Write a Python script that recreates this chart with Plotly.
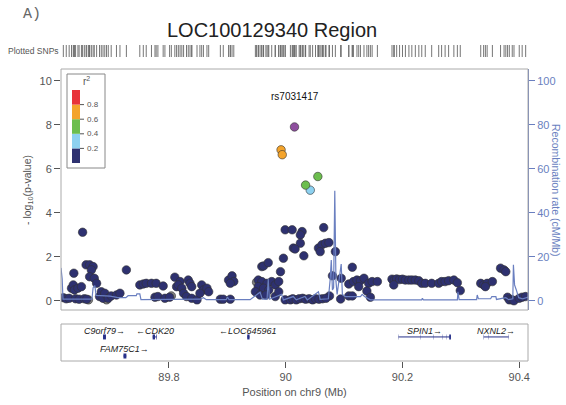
import plotly.graph_objects as go

W, H = 566, 405

# ---------------- data ----------------
snp_pos = [89.619, 89.624, 89.629, 89.633, 89.636, 89.637, 89.638, 89.644, 89.650, 89.640,
           89.646, 89.652, 89.655, 89.658, 89.664, 89.670, 89.667, 89.664, 89.672, 89.676,
           89.659, 89.662, 89.681, 89.684, 89.687, 89.690, 89.693, 89.696, 89.701, 89.710,
           89.716, 89.727, 89.750, 89.756, 89.761, 89.770, 89.778, 89.790, 89.776, 89.781,
           89.793, 89.801, 89.804, 89.810, 89.813, 89.819, 89.816, 89.822, 89.825, 89.833,
           89.836, 89.839, 89.830, 89.839, 89.848, 89.856, 89.859, 89.865, 89.868, 89.853,
           89.888, 89.893, 89.905, 89.902, 89.908, 89.911, 89.905, 89.959, 89.962, 89.970,
           89.953, 89.959, 89.968, 89.976, 89.982, 89.988, 89.953, 89.962, 89.971, 89.948,
           89.956, 89.966, 89.982, 89.988, 89.991, 89.996, 89.999, 90.011, 90.013, 89.999,
           90.008, 89.950, 90.028, 90.025, 90.065, 90.025, 90.016, 90.031, 90.056, 90.062,
           90.068, 90.074, 90.059, 90.085, 90.080, 90.095, 90.075, 90.094, 90.012, 90.018,
           90.023, 90.029, 90.034, 90.040, 90.046, 90.051, 90.057, 90.063, 90.069, 90.015,
           89.992, 89.994, 90.034, 90.055, 90.042, 90.114, 90.108, 90.116, 90.122, 90.128,
           90.134, 90.142, 90.148, 90.157, 90.125, 90.139, 90.108, 90.114, 90.145, 90.182,
           90.186, 90.190, 90.195, 90.200, 90.205, 90.185, 90.211, 90.216, 90.222, 90.228,
           90.233, 90.239, 90.250, 90.262, 90.267, 90.273, 90.279, 90.288, 90.294, 90.299,
           90.334, 90.339, 90.345, 90.354, 90.342, 90.368, 90.374, 90.377, 90.380, 90.383,
           90.388, 90.391, 90.400, 90.405, 90.411]
snp_logp = [0.15, 0.10, 0.12, 0.58, 0.73, 1.26, 0.50, 0.58, 0.65, 0.10,
            0.08, 3.12, 0.10, 1.64, 1.64, 1.56, 1.41, 1.10, 1.03, 0.80,
            0.08, 0.05, 0.20, 0.42, 0.12, 0.35, 0.05, 0.12, 0.23, 0.27,
            0.35, 1.41, 0.73, 0.77, 0.80, 0.80, 0.80, 0.68, 0.17, 0.20,
            0.12, 0.17, 0.23, 1.08, 0.65, 0.88, 0.73, 0.58, 0.35, 0.95,
            0.80, 0.65, 0.20, 0.12, 0.05, 0.73, 0.50, 0.58, 0.42, 0.35,
            0.08, 0.08, 0.08, 0.95, 1.14, 0.88, 0.80, 1.56, 1.59, 1.74,
            0.95, 0.88, 0.80, 0.88, 0.73, 0.88, 0.65, 0.58, 0.50, 0.42,
            0.27, 0.27, 0.20, 0.42, 1.33, 1.94, 3.23, 3.23, 2.40, 0.05,
            0.05, 0.85, 3.15, 3.00, 3.33, 2.62, 2.36, 2.05, 2.40, 2.55,
            2.62, 2.65, 2.24, 2.24, 1.14, 1.03, 0.23, 0.09, 0.10, 0.05,
            0.10, 0.12, 0.08, 0.10, 0.05, 0.10, 0.08, 0.10, 0.12, 7.90,
            6.86, 6.64, 5.26, 5.65, 5.03, 1.53, 0.77, 0.88, 0.95, 0.92,
            1.03, 0.80, 0.88, 0.88, 0.65, 0.45, 0.23, 0.23, 0.17, 0.99,
            0.95, 1.00, 0.97, 0.99, 0.95, 0.73, 0.95, 0.95, 0.95, 0.92,
            0.80, 0.80, 0.80, 0.80, 0.88, 0.88, 0.92, 0.95, 0.83, 0.47,
            0.80, 0.73, 0.80, 0.88, 0.65, 1.49, 1.41, 1.33, 0.17, 0.05,
            0.05, 0.01, 0.12, 0.17, 0.20]
# r2 per SNP (None = not available); 1.0 marks the index SNP
snp_r2 = [0.1] * len(snp_pos)
for i in (21, 26, 42, 91):
    snp_r2[i] = None
snp_r2[119] = 1.0
snp_r2[120] = 0.7
snp_r2[121] = 0.7
snp_r2[122] = 0.5
snp_r2[123] = 0.5
snp_r2[124] = 0.3
lead_snp = "rs7031417"

recomb_pos = [89.615, 89.617, 89.6184, 89.668, 89.670, 89.673, 89.675, 89.699, 89.713, 89.726,
              89.730, 89.744, 89.745, 89.750, 89.752, 89.785, 89.853, 89.859, 89.864, 89.898,
              89.900, 89.903, 89.939, 89.956, 89.960, 89.968, 89.970, 89.972, 89.993, 89.996,
              90.013, 90.018, 90.033, 90.037, 90.056, 90.059, 90.073, 90.076, 90.078, 90.080,
              90.082, 90.084, 90.086, 90.088, 90.095, 90.097, 90.102, 90.128, 90.131, 90.135,
              90.145, 90.233, 90.234, 90.236, 90.294, 90.295, 90.297, 90.327, 90.328, 90.330,
              90.351, 90.353, 90.360, 90.361, 90.377, 90.382, 90.389, 90.390, 90.392, 90.395,
              90.399, 90.406, 90.416]
recomb_rate = [15, 10, 0.8, 0.8, 6, 7, 2.5, 2.2, 1.5, 1.5,
               2.4, 2.4, 3.2, 3.2, 0.6, 0.6, 0.8, 1.5, 0.6, 0.6,
               1.8, 0.6, 0.6, 4, 0.8, 0.8, 10, 0.8, 3, 0.5,
               2, 0.5, 2, 0.5, 4.2, 0.7, 1, 9.5, 18.6, 5,
               6, 50, 9, 3, 16.8, 3, 2, 2, 3, 2,
               0.5, 0.5, 1.2, 0.5, 0.5, 4.2, 0.6, 0.6, 2.7, 1,
               1, 2, 2, 0.7, 1.5, 0.6, 1, 16.4, 7.3, 5,
               1.5, 1, 1.8]

gene_names = ["C9orf79", "CDK20", "LOC645961", "FAM75C1", "SPIN1", "NXNL2"]
gene_start = [89.687, 89.772, 89.934, 89.722, 90.193, 90.339]
gene_end = [89.692, 89.779, 89.938, 89.727, 90.283, 90.382]
gene_strand = ["+", "-", "-", "+", "+", "+"]
gene_row = [1, 1, 1, 2, 1, 1]
gene_exons = [
    [(89.687, 89.692)],
    [(89.772, 89.776), (89.778, 89.779)],
    [(89.934, 89.938)],
    [(89.722, 89.727)],
    [(90.193, 90.1935), (90.231, 90.2315), (90.253, 90.2535), (90.268, 90.2685),
     (90.275, 90.2755), (90.280, 90.283)],
    [(90.339, 90.3395), (90.347, 90.3475), (90.3815, 90.382)],
]

xticks = [89.8, 90.0, 90.2, 90.4]
xtick_labels = ["89.8", "90", "90.2", "90.4"]
yticks = [0, 2, 4, 6, 8, 10]
y2ticks = [0, 20, 40, 60, 80, 100]
r2_breaks = [0.2, 0.4, 0.6, 0.8]

# ---------------- styling ----------------
NAVY = "#2E3170"
LBLUE = "#8DD1F0"
GREEN = "#6CBE4E"
ORANGE = "#F4A42C"
RED = "#E8333A"
PURPLE = "#8E4F9E"
GRAY = "#808080"
RCOL = "#6A7FC0"
FRAME = "#AAAAAA"
TXT = "#555555"
GENE = "#27308A"


def px(x):
    return x / W


def py(y):
    return 1 - y / H


def r2_color(r):
    if r is None:
        return GRAY
    if r >= 1.0:
        return PURPLE
    if r >= 0.8:
        return RED
    if r >= 0.6:
        return ORANGE
    if r >= 0.4:
        return GREEN
    if r >= 0.2:
        return LBLUE
    return NAVY


XD = [px(61), px(528)]
XR = [89.615, 90.415]

fig = go.Figure()

# recombination rate
fig.add_trace(go.Scatter(x=recomb_pos, y=recomb_rate, mode="lines", yaxis="y2", xaxis="x",
                         line=dict(color=RCOL, width=1.2), hoverinfo="skip", showlegend=False))

# SNP points: draw navy/gray first, then coloured
order = sorted(range(len(snp_pos)), key=lambda i: (snp_r2[i] if snp_r2[i] is not None else -1))
fig.add_trace(go.Scatter(
    x=[snp_pos[i] for i in order], y=[snp_logp[i] for i in order], mode="markers",
    xaxis="x", yaxis="y",
    marker=dict(size=8.5, color=[r2_color(snp_r2[i]) for i in order],
                line=dict(color="#333333", width=0.6)),
    showlegend=False))

# rug of plotted SNPs
rx, ry = [], []
for p in snp_pos:
    rx += [p, p, None]
    ry += [0, 1, None]
fig.add_trace(go.Scatter(x=rx, y=ry, mode="lines", xaxis="x3", yaxis="y4",
                         line=dict(color="#666666", width=0.9), hoverinfo="skip", showlegend=False))

# genes
annotations = []
for name, s, e, st, row, exons in zip(gene_names, gene_start, gene_end, gene_strand, gene_row, gene_exons):
    yb = 0.65 if row == 1 else 0.135
    yl = 0.81 if row == 1 else 0.32
    fig.add_trace(go.Scatter(x=[s, e], y=[yb, yb], mode="lines", xaxis="x2", yaxis="y3",
                             line=dict(color=GENE, width=1), hoverinfo="skip", showlegend=False))
    for (a, b) in exons:
        fig.add_trace(go.Scatter(x=[a, b], y=[yb, yb], mode="lines", xaxis="x2", yaxis="y3",
                                 line=dict(color=GENE, width=5), hoverinfo="skip", showlegend=False))
    label = f"<i>{name}</i>→" if st == "+" else f"←<i>{name}</i>"
    annotations.append(dict(x=(s + e) / 2, y=yl, xref="x2", yref="y3", text=label, showarrow=False,
                            font=dict(size=9, color="#222222", family="Liberation Sans"),
                            xanchor="center", yanchor="middle"))

# texts
annotations += [
    dict(x=px(271.5), y=py(30), xref="paper", yref="paper", text="LOC100129340 Region",
         showarrow=False, font=dict(size=20, color="#222222", family="Liberation Sans"),
         xanchor="center", yanchor="middle"),
    dict(x=px(21), y=py(15), xref="paper", yref="paper", text="A)", showarrow=False,
         font=dict(size=15, color="#666666", family="Liberation Mono"), xanchor="left", yanchor="middle"),
    dict(x=px(6), y=py(51), xref="paper", yref="paper", text="Plotted SNPs", showarrow=False,
         font=dict(size=8.5, color=TXT, family="Liberation Sans"), xanchor="left", yanchor="middle"),
    dict(x=90.015, y=9.27, xref="x", yref="y", text=lead_snp, showarrow=False,
         font=dict(size=10, color="#111111", family="Liberation Sans"), xanchor="center", yanchor="middle"),
    dict(x=px(28), y=py(190), xref="paper", yref="paper", text="- log<sub>10</sub>(p-value)",
         showarrow=False, textangle=-90, font=dict(size=10.5, color=TXT, family="Liberation Sans"),
         xanchor="center", yanchor="middle"),
    dict(x=px(556), y=py(190), xref="paper", yref="paper", text="Recombination rate (cM/Mb)",
         showarrow=False, textangle=90, font=dict(size=10.5, color=RCOL, family="Liberation Sans"),
         xanchor="center", yanchor="middle"),
    dict(x=px(86), y=py(81), xref="paper", yref="paper", text="r<sup>2</sup>", showarrow=False,
         font=dict(size=10, color=TXT, family="Liberation Sans"), xanchor="center", yanchor="middle"),
]

# legend (r2 colour bar)
shapes = [
    dict(type="rect", xref="paper", yref="paper", x0=px(61), x1=px(528), y0=py(310), y1=py(69),
         line=dict(color=FRAME, width=1)),
    dict(type="rect", xref="paper", yref="paper", x0=px(61), x1=px(528), y0=py(361), y1=py(324),
         line=dict(color=FRAME, width=1)),
    dict(type="rect", xref="paper", yref="paper", x0=px(67), x1=px(105), y0=py(168), y1=py(74),
         line=dict(color="#888888", width=1), fillcolor="white"),
]
bar_cols = [NAVY, LBLUE, GREEN, ORANGE, RED]
bar_top, bar_bot = 90, 163
seg = (bar_bot - bar_top) / 5
for k, c in enumerate(bar_cols):
    yb = bar_bot - k * seg
    shapes.append(dict(type="rect", xref="paper", yref="paper", x0=px(72), x1=px(80),
                       y0=py(yb), y1=py(yb - seg), line=dict(width=0), fillcolor=c))
for k, v in enumerate(r2_breaks):
    yy = bar_bot - (k + 1) * seg
    shapes.append(dict(type="line", xref="paper", yref="paper", x0=px(80), x1=px(84),
                       y0=py(yy), y1=py(yy), line=dict(color=TXT, width=1)))
    annotations.append(dict(x=px(85), y=py(yy), xref="paper", yref="paper", text=f"{v:.1f}",
                            showarrow=False, font=dict(size=8, color=TXT, family="Liberation Sans"),
                            xanchor="left", yanchor="middle"))

fig.update_layout(
    width=W, height=H, margin=dict(l=0, r=0, t=0, b=0),
    paper_bgcolor="white", plot_bgcolor="rgba(0,0,0,0)",
    font=dict(family="Liberation Sans", color=TXT),
    xaxis=dict(domain=XD, range=XR, anchor="y", showticklabels=False, ticks="", showgrid=False,
               zeroline=False, showline=False),
    yaxis=dict(domain=[py(310), py(69)], range=[-0.41, 10.53], anchor="x", tickvals=yticks,
               ticks="outside", ticklen=6, tickcolor=TXT, tickfont=dict(size=11, color=TXT),
               showgrid=False, zeroline=False, showline=False, automargin=False),
    yaxis2=dict(overlaying="y", side="right", anchor="x", range=[-4.1, 105.3], tickvals=y2ticks,
                ticks="outside", ticklen=6, tickcolor=RCOL, tickfont=dict(size=11, color=RCOL),
                showline=True, linecolor=RCOL, linewidth=1, showgrid=False, zeroline=False,
                automargin=False),
    xaxis2=dict(domain=XD, range=XR, anchor="y3", tickvals=xticks, ticktext=xtick_labels,
                ticks="outside", ticklen=6, tickcolor=TXT, tickfont=dict(size=11, color=TXT),
                showgrid=False, zeroline=False, showline=False, automargin=False,
                title=dict(text="Position on chr9 (Mb)", font=dict(size=11, color=TXT), standoff=6)),
    yaxis3=dict(domain=[py(361), py(324)], range=[0, 1], anchor="x2", showticklabels=False,
                ticks="", showgrid=False, zeroline=False, showline=False),
    xaxis3=dict(domain=XD, range=XR, anchor="y4", visible=False),
    yaxis4=dict(domain=[py(57), py(45)], range=[0, 1], anchor="x3", visible=False),
    shapes=shapes, annotations=annotations, showlegend=False,
)

fig.write_html("out.html", config={"displayModeBar": False},
               post_script="document.body.style.margin='0';")
